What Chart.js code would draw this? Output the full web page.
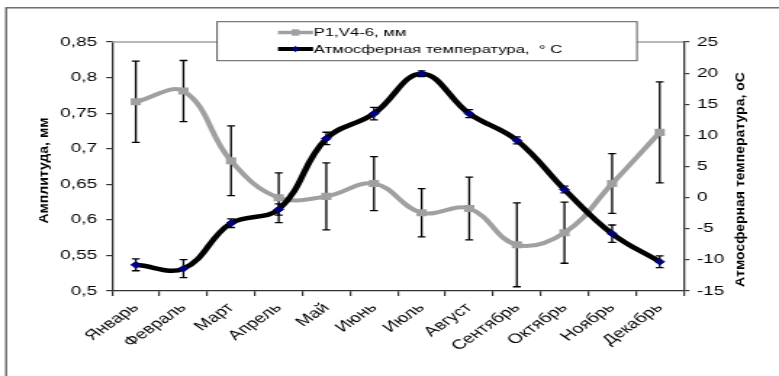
<!DOCTYPE html>
<html>
<head>
<meta charset="utf-8">
<script src="https://cdn.jsdelivr.net/npm/chart.js@4"></script>
<style>
  html, body { margin: 0; padding: 0; background: #fff; overflow: hidden; }
  #wrap { position: absolute; left: 0; top: 0; width: 537px; height: 376px; transform-origin: 0 0; transform: scaleX(1.45065); }
</style>
</head>
<body>
<div id="wrap"><canvas id="c"></canvas></div>
<script>
// ---- data ----
const months = ['Январь','Февраль','Март','Апрель','Май','Июнь','Июль','Август','Сентябрь','Октябрь','Ноябрь','Декабрь'];
const amplitude = [0.766, 0.781, 0.683, 0.631, 0.633, 0.651, 0.610, 0.616, 0.565, 0.582, 0.651, 0.723];
const amplitudeErr = [0.057, 0.043, 0.049, 0.035, 0.047, 0.038, 0.034, 0.044, 0.059, 0.043, 0.042, 0.071];
const temperature = [-10.8, -11.4, -4.1, -1.9, 9.5, 13.5, 19.9, 13.5, 9.2, 1.3, -5.8, -10.3];
const temperatureErr = [0.95, 1.45, 0.7, 0.9, 1.0, 1.0, 0.45, 0.65, 0.55, 0.55, 1.4, 0.95];
const leftTickLabels = ['0,5','0,55','0,6','0,65','0,7','0,75','0,8','0,85'];
const rightTickLabels = ['-15','-10','-5','0','5','10','15','20','25'];
const seriesNames = ['P1,V4-6, мм', 'Атмосферная температура,  ° C'];
const leftTitle = 'Амплитуда, мм';
const rightTitle = 'Атмосферная температура, оС';

const S = 779 / 537; // horizontal stretch of the picture
const FONT = '"Liberation Sans", Arial, sans-serif';
const GRAY = '#a0a0a0';
const NAVY = '#000080';

const decor = {
  id: 'decor',
  beforeDraw(chart) {
    const ctx = chart.ctx;
    ctx.save();
    ctx.fillStyle = '#fff';
    ctx.fillRect(0, 0, chart.width, chart.height);
    ctx.strokeStyle = '#5a5a5a';
    ctx.lineWidth = 1.3;
    ctx.strokeRect(4.2, 7.8, chart.width + 40, chart.height + 40);
    ctx.restore();
  },
  beforeDatasetsDraw(chart) {
    const ctx = chart.ctx;
    const errs = [amplitudeErr, temperatureErr];
    ctx.save();
    ctx.strokeStyle = '#000';
    ctx.lineWidth = 1.3;
    chart.data.datasets.forEach((ds, di) => {
      const meta = chart.getDatasetMeta(di);
      const scale = chart.scales[meta.yAxisID];
      meta.data.forEach((pt, i) => {
        const v = ds.data[i], e = errs[di][i];
        const y1 = scale.getPixelForValue(v + e);
        const y2 = scale.getPixelForValue(v - e);
        const x = pt.x, w = 2.7;
        ctx.beginPath();
        ctx.moveTo(x, y1); ctx.lineTo(x, y2);
        ctx.moveTo(x - w, y1); ctx.lineTo(x + w, y1);
        ctx.moveTo(x - w, y2); ctx.lineTo(x + w, y2);
        ctx.stroke();
      });
    });
    ctx.restore();
  },
  afterDraw(chart) {
    const ctx = chart.ctx;
    const a = chart.chartArea;
    ctx.save();
    // top frame line of the plot area
    ctx.strokeStyle = GRAY;
    ctx.lineWidth = 1.3;
    ctx.beginPath();
    ctx.moveTo(a.left, a.top); ctx.lineTo(a.right, a.top);
    ctx.stroke();

    // legend box
    const lx = 149.6, ly = 21.7, lw = 289.5, lh = 39;
    ctx.fillStyle = '#fff';
    ctx.fillRect(lx, ly, lw, lh);
    ctx.strokeStyle = '#5a5a5a';
    ctx.lineWidth = 1;
    ctx.strokeRect(lx, ly, lw, lh);
    const rows = [32.5, 49];
    const x0 = 191.6, x1 = 215.8, xm = 203.7;
    // entry 1
    ctx.strokeStyle = GRAY; ctx.lineWidth = 3.5;
    ctx.beginPath(); ctx.moveTo(x0, rows[0]); ctx.lineTo(x1, rows[0]); ctx.stroke();
    ctx.fillStyle = GRAY;
    ctx.fillRect(xm - 2.6, rows[0] - 3.2, 5.2, 6.4);
    // entry 2
    ctx.strokeStyle = '#000'; ctx.lineWidth = 4;
    ctx.beginPath(); ctx.moveTo(x0, rows[1]); ctx.lineTo(x1, rows[1]); ctx.stroke();
    ctx.fillStyle = NAVY;
    ctx.beginPath();
    ctx.moveTo(xm, rows[1] - 3.3); ctx.lineTo(xm + 2.4, rows[1]);
    ctx.lineTo(xm, rows[1] + 3.3); ctx.lineTo(xm - 2.4, rows[1]);
    ctx.closePath(); ctx.fill();
    ctx.fillStyle = '#000';
    ctx.font = '11.5px ' + FONT;
    ctx.textAlign = 'left';
    ctx.textBaseline = 'middle';
    chart.data.datasets.forEach((ds, i) => ctx.fillText(ds.label, x1 + 0.5, rows[i] + 0.5));

    // axis titles (drawn without the horizontal stretch)
    ctx.scale(1 / S, 1);
    ctx.font = 'bold 14px ' + FONT;
    ctx.textAlign = 'center';
    ctx.textBaseline = 'middle';
    ctx.save();
    ctx.translate(43.5, 170.5);
    ctx.rotate(-Math.PI / 2);
    ctx.fillText(leftTitle, 0, 0);
    ctx.restore();
    ctx.save();
    ctx.translate(740, 179.5);
    ctx.rotate(-Math.PI / 2);
    ctx.fillText(rightTitle, 0, 0);
    ctx.restore();
    ctx.restore();
  }
};

new Chart(document.getElementById('c'), {
  type: 'line',
  data: {
    labels: months,
    datasets: [
      {
        label: seriesNames[0],
        data: amplitude,
        yAxisID: 'y',
        borderColor: GRAY,
        borderWidth: 4,
        tension: 0.4,
        pointStyle: 'rect',
        pointRadius: 5,
        pointBackgroundColor: GRAY,
        pointBorderColor: GRAY,
        pointBorderWidth: 0,
        order: 1
      },
      {
        label: seriesNames[1],
        data: temperature,
        yAxisID: 'y1',
        borderColor: '#000',
        borderWidth: 4.5,
        tension: 0.4,
        pointStyle: 'rectRot',
        pointRadius: 3.3,
        pointBackgroundColor: NAVY,
        pointBorderColor: NAVY,
        pointBorderWidth: 1,
        order: 0
      }
    ]
  },
  options: {
    responsive: true,
    maintainAspectRatio: false,
    devicePixelRatio: 1,
    animation: false,
    layout: { padding: { left: 0, right: 0, top: 42, bottom: 0 } },
    plugins: { legend: { display: false }, tooltip: { enabled: false } },
    scales: {
      x: {
        type: 'category',
        offset: true,
        grid: { offset: true, drawOnChartArea: false, drawTicks: true, tickLength: 5, color: '#333', lineWidth: 1.2 },
        border: { display: true, color: '#333', width: 1.3 },
        ticks: {
          autoSkip: false, minRotation: 45, maxRotation: 45, padding: 4,
          color: '#000', font: { family: FONT, size: 13.5 }
        },
        afterFit(s) { s.height = 85; }
      },
      y: {
        position: 'left',
        min: 0.5, max: 0.85,
        grid: { drawOnChartArea: false, drawTicks: true, tickLength: 4, color: '#333', lineWidth: 1.2 },
        border: { display: true, color: '#333', width: 1.3 },
        ticks: {
          stepSize: 0.05, padding: 6.3, color: '#000', font: { family: FONT, size: 13 },
          callback: (v, i) => leftTickLabels[i]
        },
        afterFit(s) { s.width = 77.2; }
      },
      y1: {
        position: 'right',
        min: -15, max: 25,
        grid: { drawOnChartArea: false, drawTicks: true, tickLength: 4, color: '#333', lineWidth: 1.2 },
        border: { display: true, color: '#333', width: 1.3 },
        ticks: {
          stepSize: 5, padding: 5.3, color: '#000', font: { family: FONT, size: 13 },
          callback: (v, i) => rightTickLabels[i]
        },
        afterFit(s) { s.width = 537 - 471.2; }
      }
    }
  },
  plugins: [decor]
});
</script>
</body>
</html>
